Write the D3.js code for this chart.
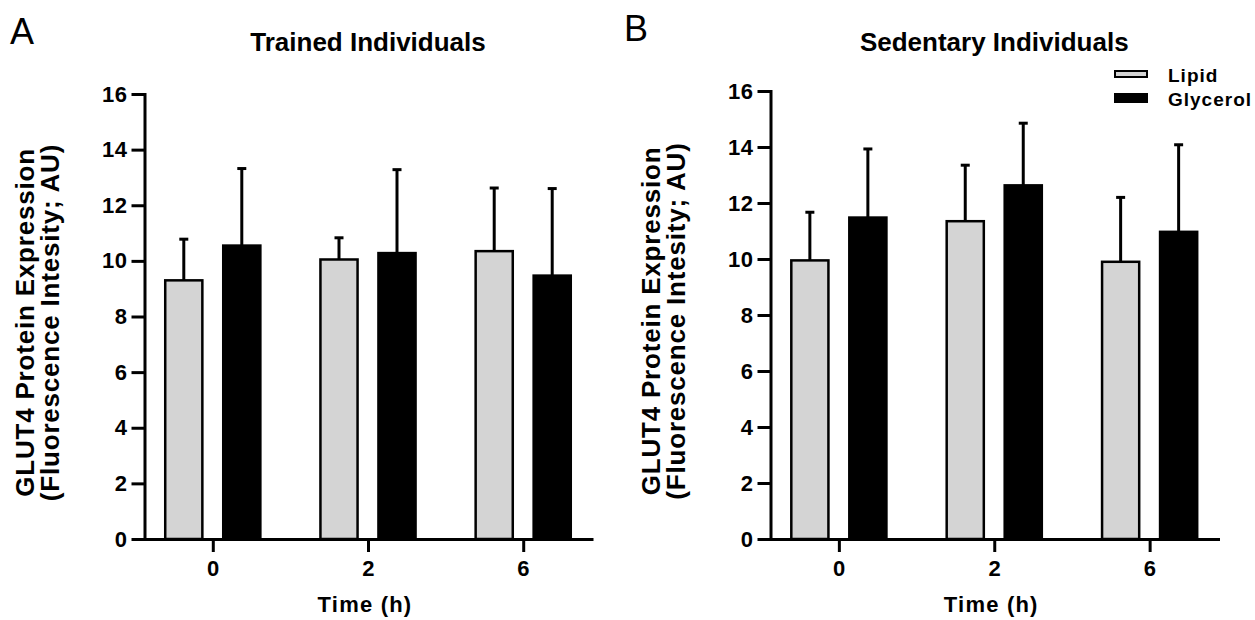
<!DOCTYPE html>
<html>
<head>
<meta charset="utf-8">
<script src="https://cdn.jsdelivr.net/npm/d3@7"></script>
<style>
  body { margin: 0; background: #fff; }
  text { font-family: "Liberation Sans", Arial, sans-serif; }
</style>
</head>
<body>
<div id="chart"></div>
<script>
var w = 1255, h = 620;

// data
var categories = ["0", "2", "6"];
var series = ["Lipid", "Glycerol"];
var yTicks = [0, 2, 4, 6, 8, 10, 12, 14, 16];

var trainedLipid = [9.3, 10.05, 10.35];
var trainedLipidErr = [1.48, 0.78, 2.27];
var trainedGlycerol = [10.55, 10.28, 9.47];
var trainedGlycerolErr = [2.77, 3.0, 3.13];

var sedentaryLipid = [9.95, 11.35, 9.9];
var sedentaryLipidErr = [1.72, 2.0, 2.3];
var sedentaryGlycerol = [11.48, 12.63, 10.97];
var sedentaryGlycerolErr = [2.45, 2.22, 3.11];

var fills = {Lipid: "#d4d4d4", Glycerol: "#000"};

var svg = d3.select("#chart").append("svg")
    .attr("width", w)
    .attr("height", h);

// panel letters
svg.append("text").attr("x", 10).attr("y", 44).attr("font-size", 36).text("A");
svg.append("text").attr("x", 624).attr("y", 41).attr("font-size", 36).text("B");

function drawPanel(opt) {
    var g = svg.append("g");

    var x = d3.scalePoint()
        .domain(categories)
        .range([opt.left, opt.right])
        .padding(0.44);

    var y = d3.scaleLinear()
        .domain([0, 16])
        .range([opt.bottom, opt.top]);

    // sub-band for the two series inside a time group
    var xs = d3.scaleBand()
        .domain(series)
        .range([-58, 58])
        .paddingInner(0.36)
        .paddingOuter(0.18);

    var rows = [];
    categories.forEach(function (c, i) {
        rows.push({cat: c, s: "Lipid", v: opt.lipid[i], e: opt.lipidErr[i]});
        rows.push({cat: c, s: "Glycerol", v: opt.glycerol[i], e: opt.glycerolErr[i]});
    });

    // error bars (upper only), drawn behind the bars
    var eb = g.selectAll(".err").data(rows).enter().append("g")
        .attr("stroke", "#000")
        .attr("stroke-width", 3);
    eb.append("line")
        .attr("x1", function (d) { return x(d.cat) + xs(d.s) + xs.bandwidth() / 2; })
        .attr("x2", function (d) { return x(d.cat) + xs(d.s) + xs.bandwidth() / 2; })
        .attr("y1", function (d) { return y(d.v); })
        .attr("y2", function (d) { return y(d.v + d.e); });
    eb.append("line")
        .attr("x1", function (d) { return x(d.cat) + xs(d.s) + xs.bandwidth() / 2 - 4.5; })
        .attr("x2", function (d) { return x(d.cat) + xs(d.s) + xs.bandwidth() / 2 + 4.5; })
        .attr("y1", function (d) { return y(d.v + d.e); })
        .attr("y2", function (d) { return y(d.v + d.e); });

    g.selectAll(".bar").data(rows).enter().append("rect")
        .attr("x", function (d) { return x(d.cat) + xs(d.s); })
        .attr("y", function (d) { return y(d.v); })
        .attr("width", xs.bandwidth())
        .attr("height", function (d) { return y(0) - y(d.v); })
        .attr("fill", function (d) { return fills[d.s]; })
        .attr("stroke", "#000")
        .attr("stroke-width", 2.5);

    var yAxis = g.append("g")
        .attr("transform", "translate(" + opt.left + ",0)")
        .call(d3.axisLeft(y).tickValues(yTicks).tickSize(13).tickSizeOuter(0).tickPadding(4));

    var xAxis = g.append("g")
        .attr("transform", "translate(0," + opt.bottom + ")")
        .call(d3.axisBottom(x).tickSize(13).tickSizeOuter(0).tickPadding(8));

    [yAxis, xAxis].forEach(function (a) {
        a.selectAll("path, line").attr("stroke", "#000").attr("stroke-width", 3);
        a.select(".domain").attr("stroke-linecap", "square");
        a.selectAll("text")
            .attr("fill", "#000")
            .attr("font-size", 22)
            .attr("font-weight", "bold")
            .attr("font-family", "Liberation Sans, Arial, sans-serif")
            .attr("letter-spacing", 0.5);
    });

    var cx = (opt.left + opt.right) / 2;

    g.append("text")
        .attr("x", cx)
        .attr("y", 51)
        .attr("text-anchor", "middle")
        .attr("font-size", 26)
        .attr("font-weight", "bold")
        .text(opt.title);

    g.append("text")
        .attr("x", cx - 3)
        .attr("y", 612)
        .attr("text-anchor", "middle")
        .attr("font-size", 22)
        .attr("font-weight", "bold")
        .attr("letter-spacing", 1.2)
        .text("Time (h)");

    var yl = g.append("text")
        .attr("transform", "translate(" + (opt.left - 111) + "," + (opt.top + opt.bottom) / 2 + ") rotate(-90)")
        .attr("text-anchor", "middle")
        .attr("font-size", 26)
        .attr("font-weight", "bold")
        .attr("letter-spacing", 0.8);
    yl.append("tspan").attr("x", -6).attr("y", 0).text("GLUT4 Protein Expression");
    yl.append("tspan").attr("x", -6).attr("y", 25).text("(Fluorescence Intesity; AU)");

    return {x: x, y: y};
}

drawPanel({
    title: "Trained Individuals",
    left: 144.5, right: 591.5, top: 94, bottom: 539,
    lipid: trainedLipid, lipidErr: trainedLipidErr,
    glycerol: trainedGlycerol, glycerolErr: trainedGlycerolErr
});

drawPanel({
    title: "Sedentary Individuals",
    left: 770.5, right: 1218, top: 91, bottom: 539,
    lipid: sedentaryLipid, lipidErr: sedentaryLipidErr,
    glycerol: sedentaryGlycerol, glycerolErr: sedentaryGlycerolErr
});

// legend
var legend = svg.append("g").attr("transform", "translate(1114,68)");
var li = legend.selectAll("g").data(series).enter().append("g")
    .attr("transform", function (d, i) { return "translate(0," + i * 24 + ")"; });
li.append("rect")
    .attr("x", 1)
    .attr("y", function (d) { return d === "Lipid" ? 3 : 2; })
    .attr("width", 32)
    .attr("height", function (d) { return d === "Lipid" ? 6 : 8; })
    .attr("fill", function (d) { return fills[d]; })
    .attr("stroke", "#000")
    .attr("stroke-width", 2);
li.append("text")
    .attr("x", 54)
    .attr("y", 14)
    .attr("font-size", 19)
    .attr("font-weight", "bold")
    .attr("letter-spacing", 1)
    .text(function (d) { return d; });
</script>
</body>
</html>
